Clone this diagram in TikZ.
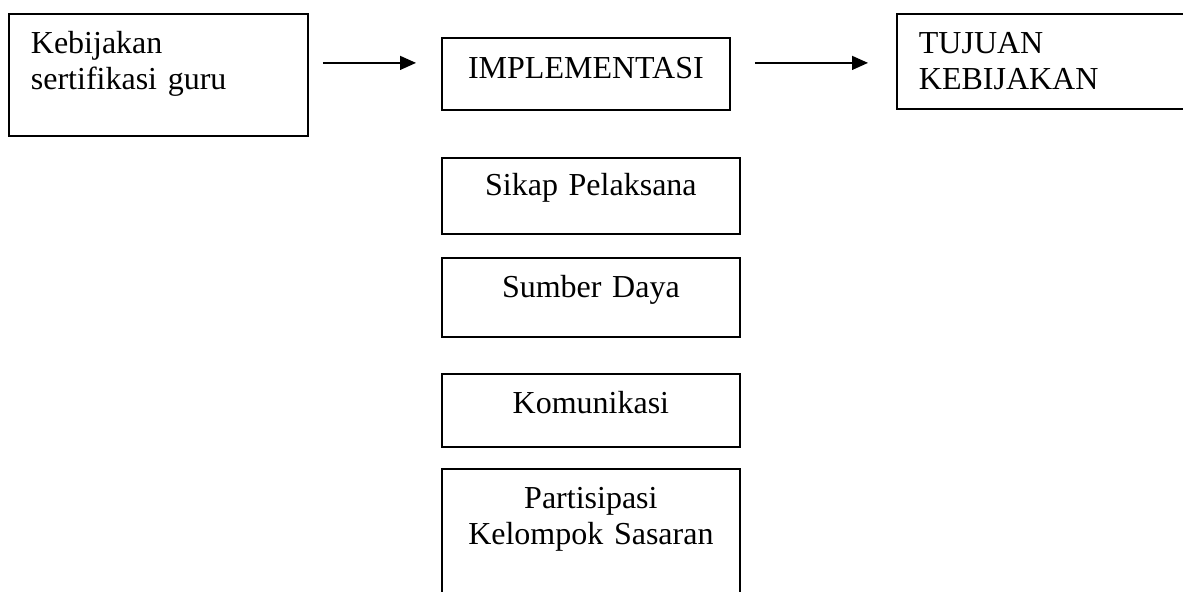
\documentclass[tikz,border=0pt]{standalone}
\usepackage{fontspec}
\setmainfont[WordSpace=0.7]{Liberation Serif}
\usetikzlibrary{arrows.meta}
\begin{document}
\begin{tikzpicture}[x=0.5pt,y=-0.5pt,
  kotak/.style={draw,line width=0.9pt,anchor=north west,inner ysep=0pt,
    font=\fontsize{16pt}{18pt}\selectfont},
  panah/.style={line width=0.7pt,-{Triangle[length=8pt,width=7pt]}}]
\useasboundingbox (0,0) rectangle (1183,591);
\clip (0,0) rectangle (1183,591);
% baris atas
\node[kotak,align=left,inner xsep=11pt,text width=127.5pt,
  text height=20pt,text depth=41pt] (kebijakan) at (8,13)
  {Kebijakan\\sertifikasi guru};
\node[kotak,align=center,inner xsep=0pt,text width=144pt,
  text height=20.5pt,text depth=15.5pt] (implementasi) at (441,37)
  {IMPLEMENTASI};
\node[kotak,align=left,inner xsep=11pt,text width=127.5pt,
  text height=20pt,text depth=27.5pt] (tujuan) at (896,13)
  {TUJUAN\\KEBIJAKAN};
% faktor-faktor
\node[kotak,align=center,inner xsep=0pt,text width=149pt,
  text height=19pt,text depth=19pt] (sikap) at (441,157)
  {Sikap Pelaksana};
\node[kotak,align=center,inner xsep=0pt,text width=149pt,
  text height=20pt,text depth=19.5pt] (sumber) at (441,257)
  {Sumber Daya};
\node[kotak,align=center,inner xsep=0pt,text width=149pt,
  text height=20pt,text depth=16.5pt] (komunikasi) at (441,373)
  {Komunikasi};
\node[kotak,align=center,inner xsep=0pt,text width=149pt,
  text height=20pt,text depth=60pt] (partisipasi) at (441,468)
  {Partisipasi\\Kelompok Sasaran};
% panah
\coordinate (u1) at ([xshift=-12.5pt]implementasi.west);
\draw[panah] ([xshift=7pt,yshift=6pt]kebijakan.east) coordinate (s1) -- (s1 -| u1);
\coordinate (u2) at ([xshift=-14pt]tujuan.west);
\draw[panah] ([xshift=12pt,yshift=5.5pt]implementasi.east) coordinate (s2) -- (s2 -| u2);
\end{tikzpicture}
\end{document}
